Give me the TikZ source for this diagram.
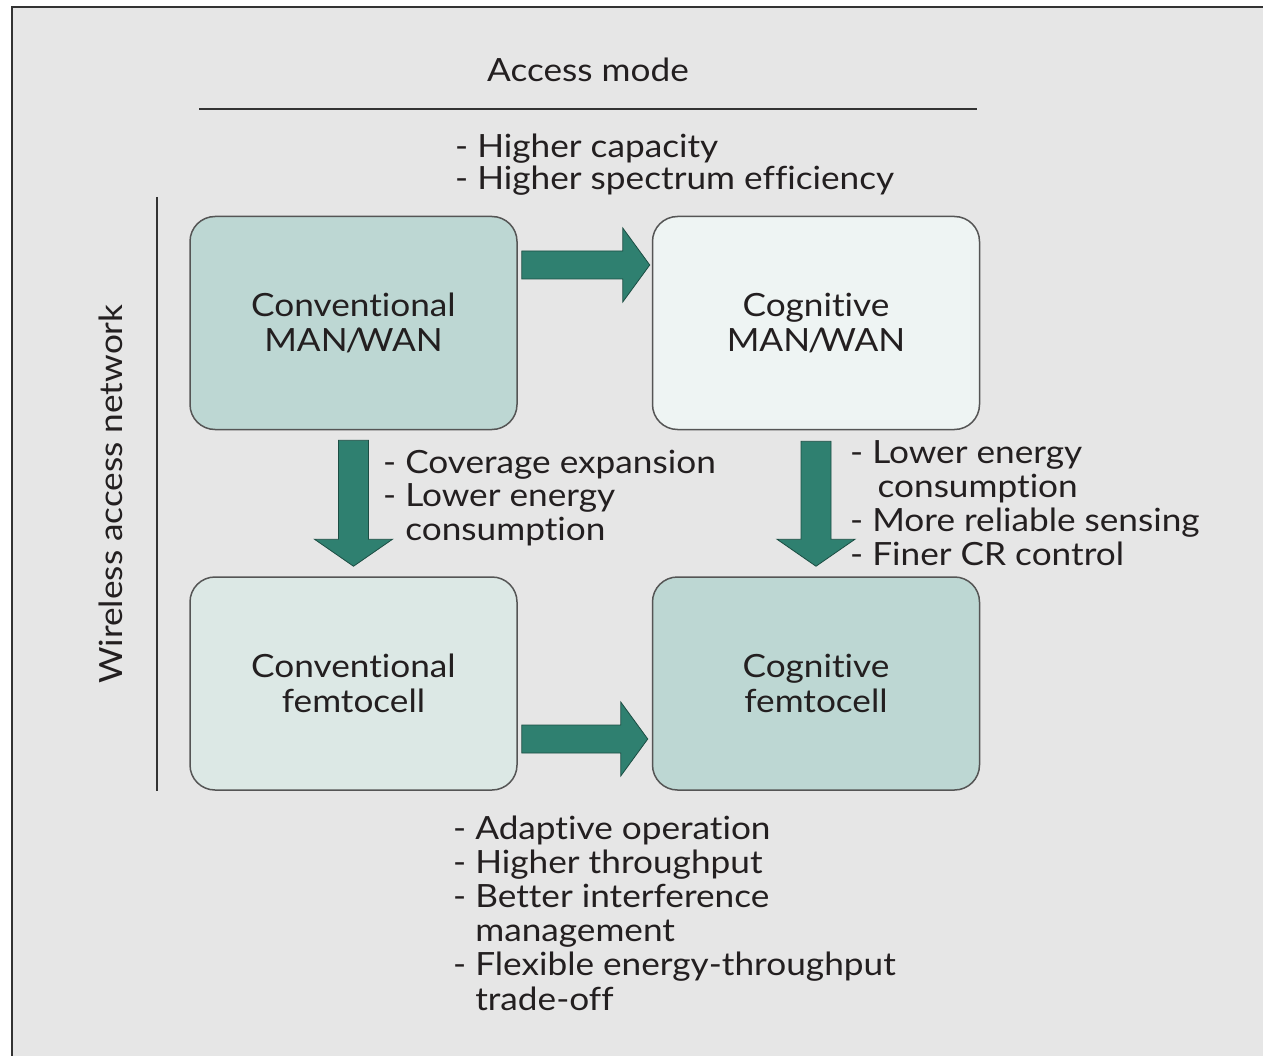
\documentclass[tikz,border=0pt]{standalone}
\usepackage{fontspec}
\setmainfont{Lato}[FakeStretch=1.1,Ligatures=NoCommon]
\usetikzlibrary{calc}
\definecolor{bggray}{HTML}{E6E6E6}
\definecolor{framec}{HTML}{333333}
\definecolor{boxline}{HTML}{555555}
\definecolor{darkbox}{HTML}{BDD7D3}
\definecolor{lightbox}{HTML}{EEF4F3}
\definecolor{midbox}{HTML}{DCE8E5}
\definecolor{arrowc}{HTML}{2F8070}
\definecolor{txt}{HTML}{231F20}
\newcommand{\myharrow}[2]{\draw[blockarrow] ($(#1)+(0,-14)$) -- ($(#2)+(-27,-14)$) -- ($(#2)+(-27,-37)$) -- (#2) -- ($(#2)+(-27,37)$) -- ($(#2)+(-27,14)$) -- ($(#1)+(0,14)$) -- cycle;}
\newcommand{\myvarrow}[2]{\draw[blockarrow] ($(#1)+(-15,0)$) -- ($(#2)+(-15,-27)$) -- ($(#2)+(-39,-27)$) -- (#2) -- ($(#2)+(39,-27)$) -- ($(#2)+(15,-27)$) -- ($(#1)+(15,0)$) -- cycle;}
\newcommand{\manwan}{MAN\kern-2pt/\kern-4.5pt WAN}
\begin{document}
\begin{tikzpicture}[x=1pt,y=-1pt,
 every node/.style={text=txt, font=\fontsize{32}{34}\selectfont},
 cell/.style={draw=boxline, line width=1.5pt, rounded corners=25pt, minimum width=327pt, minimum height=213pt, align=center, inner sep=0pt, font=\fontsize{32}{35}\selectfont},
 list/.style={align=left, anchor=base west, inner sep=0pt},
 blockarrow/.style={fill=arrowc, draw=arrowc!60!black, line width=0.8pt},
 rule/.style={draw=framec, line width=1.5pt}]

\fill[white] (0,0) rectangle (1263,1056);
\clip (0,0) rectangle (1263,1056);
\draw[fill=bggray, draw=framec, line width=2.2pt] (12,7) rectangle (1290,1080);

\node[cell, fill=darkbox] (cmw) at (353.5,323) {Conventional\\\manwan};
\node[cell, fill=lightbox] (cgw) at (816,323) {Cognitive\\\manwan};
\node[cell, fill=midbox] (cfc) at (353.5,683.5) {Conventional\\femtocell};
\node[cell, fill=darkbox] (gfc) at (816,683.5) {Cognitive\\femtocell};

\coordinate (h1s) at ($(cmw.east)+(4,-58)$);
\coordinate (h1t) at ($(cgw.west)+(-2,-58)$);
\coordinate (h2s) at ($(cfc.east)+(4,55.5)$);
\coordinate (h2t) at ($(gfc.west)+(-4,55.5)$);
\coordinate (v1s) at ($(cmw.south)+(0,10)$);
\coordinate (v1t) at ($(cfc.north)+(0,-10)$);
\coordinate (v2s) at ($(cgw.south)+(0,11)$);
\coordinate (v2t) at ($(gfc.north)+(0,-10)$);
\myharrow{h1s}{h1t}
\myharrow{h2s}{h2t}
\myvarrow{v1s}{v1t}
\myvarrow{v2s}{v2t}

\coordinate (hl1) at (199,109);
\coordinate (hl2) at (977,109);
\draw[rule] (hl1) -- (hl2);
\coordinate (vl1) at (157,197);
\coordinate (vl2) at (157,791);
\draw[rule] (vl1) -- (vl2);

\node[anchor=base] (am) at (588,82) {Access mode};
\node[rotate=90, anchor=base] (wan) at (122,494) {Wireless access network};

\node[list, font=\fontsize{32}{32}\selectfont] (l1) at (455,190) {- Higher capacity\\- Higher spectrum efficiency};
\node[list, font=\fontsize{32}{33.5}\selectfont] (l2) at (383,540) {- Coverage expansion\\- Lower energy\\\phantom{- }consumption};
\node[list, font=\fontsize{32}{34}\selectfont] (l3) at (850,565) {- Lower energy\\\phantom{- }\,consumption\\- More reliable sensing\\- Finer CR control};
\node[list, font=\fontsize{32}{34.2}\selectfont] (l4) at (453,1010) {- Adaptive operation\\- Higher throughput\\- Better interference\\\phantom{- }management\\- Flexible energy-throughput\\\phantom{- }trade-off};
\end{tikzpicture}
\end{document}
